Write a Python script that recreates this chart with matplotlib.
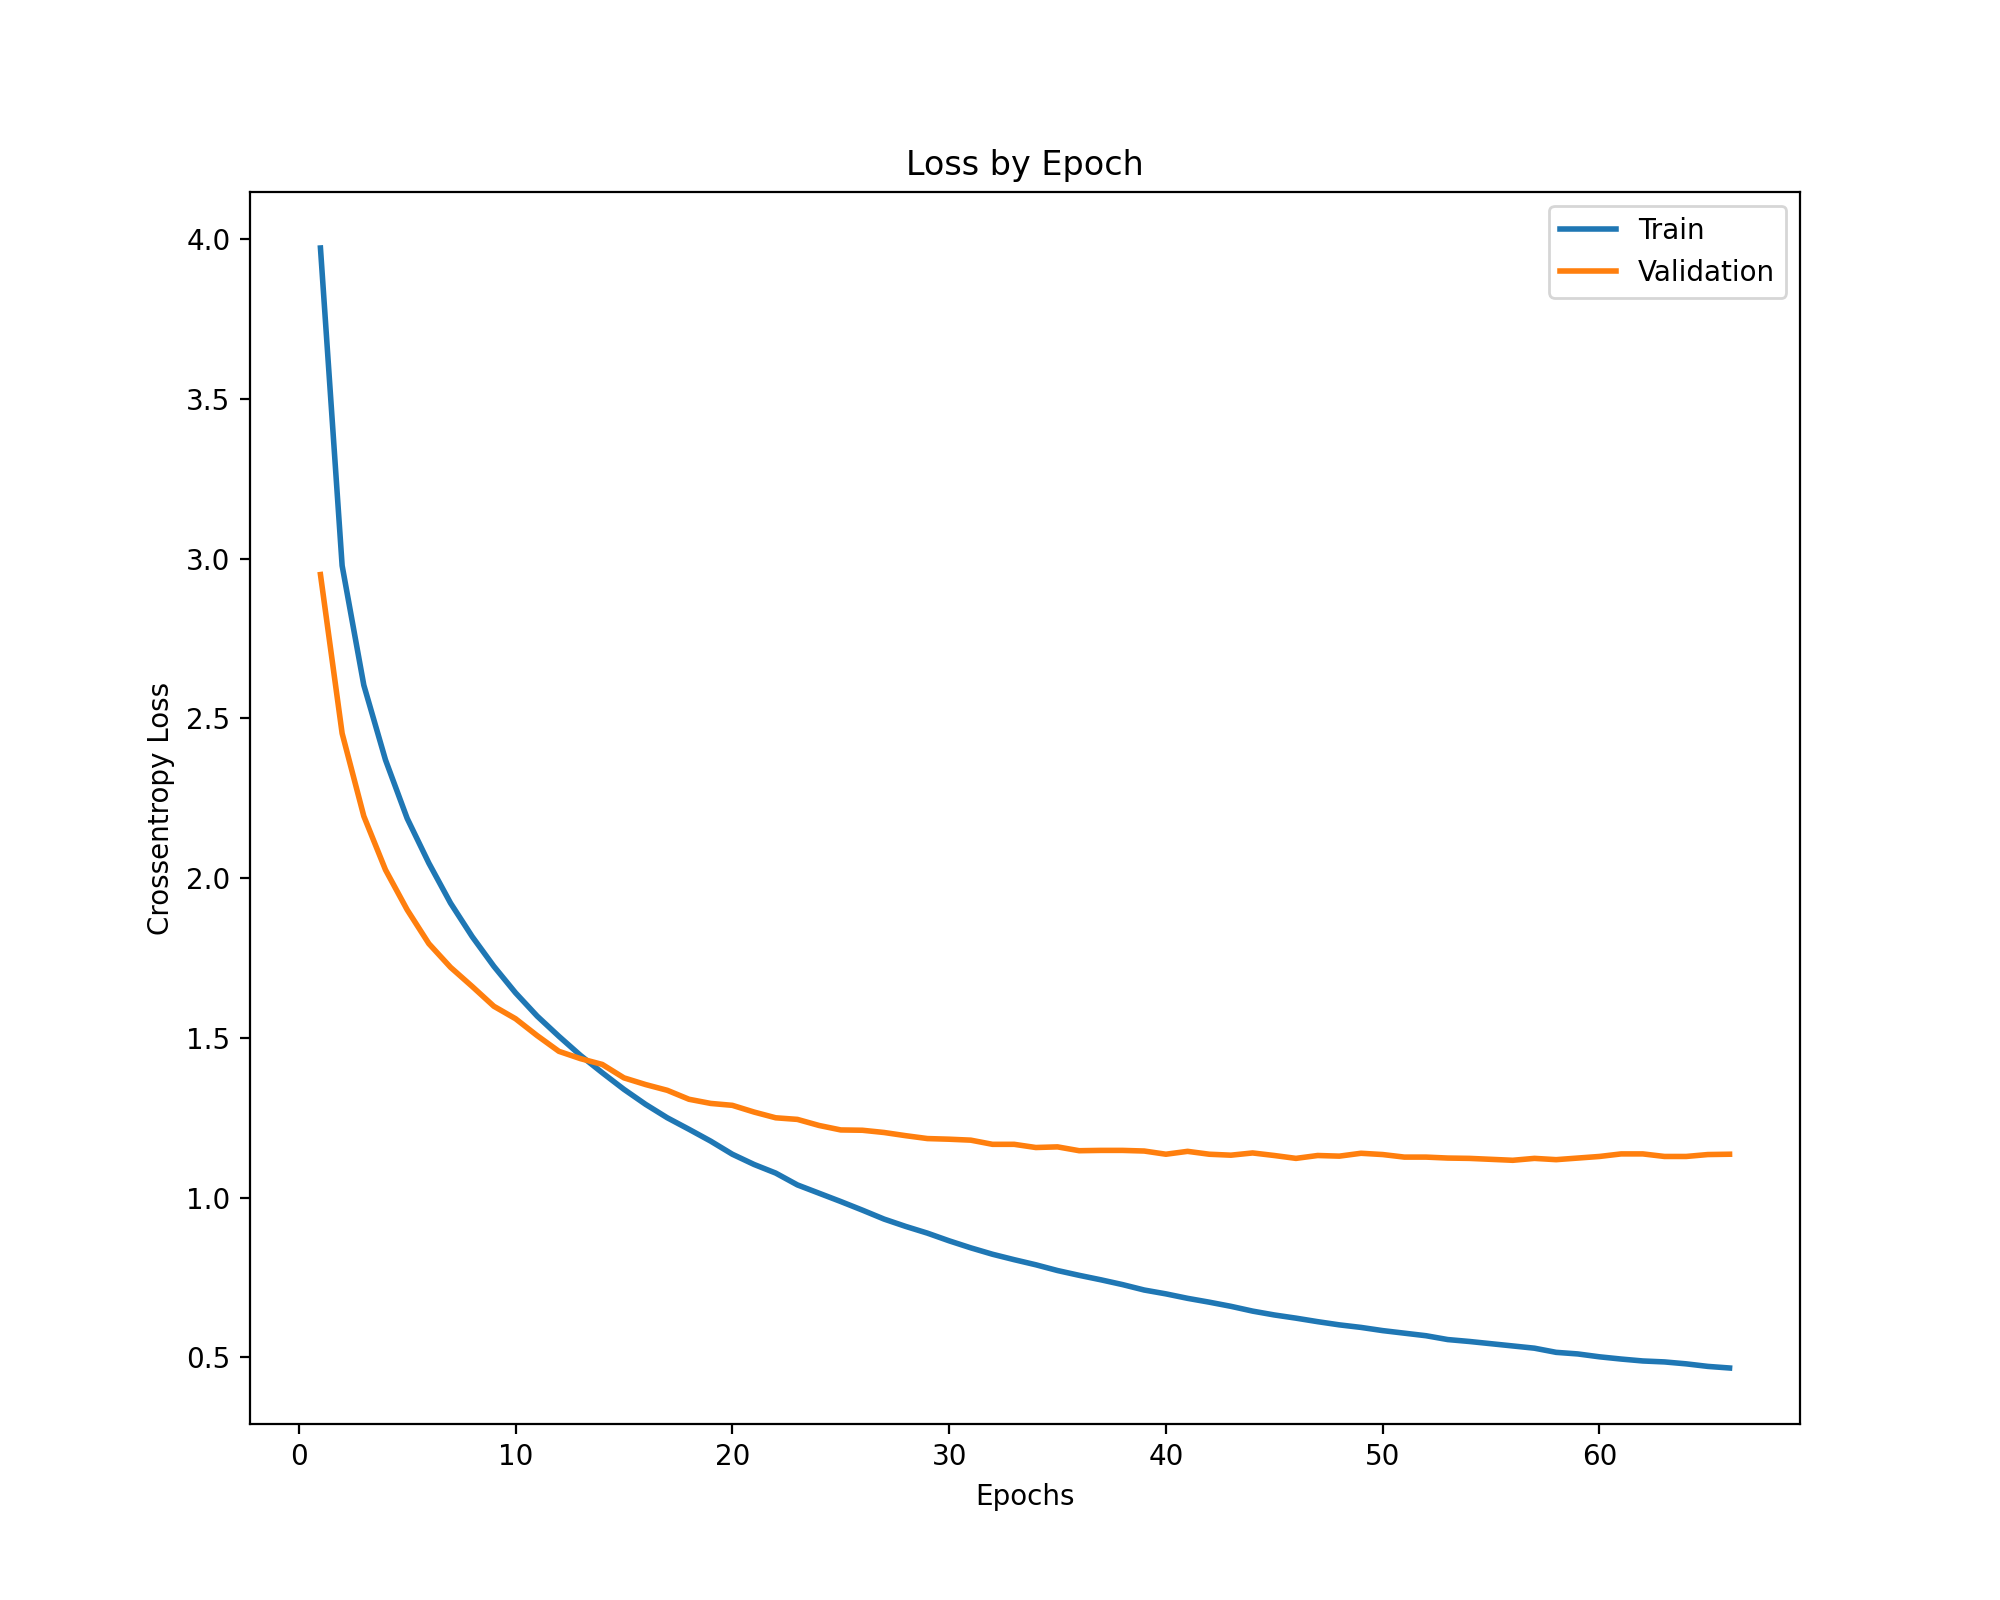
import matplotlib
matplotlib.use("Agg")
import matplotlib.pyplot as plt

# loss values, one per epoch (1..66)
train_loss = [
    3.972, 2.978, 2.604, 2.370, 2.187, 2.047, 1.922, 1.817, 1.724, 1.641,
    1.568, 1.505, 1.445, 1.391, 1.339, 1.292, 1.250, 1.214, 1.177, 1.136,
    1.104, 1.077, 1.040, 1.014, 0.988, 0.961, 0.933, 0.910, 0.889, 0.865,
    0.843, 0.823, 0.806, 0.790, 0.772, 0.757, 0.743, 0.728, 0.711, 0.699,
    0.685, 0.673, 0.660, 0.645, 0.633, 0.623, 0.612, 0.602, 0.594, 0.584,
    0.576, 0.568, 0.556, 0.550, 0.543, 0.536, 0.529, 0.516, 0.511, 0.502,
    0.495, 0.489, 0.486, 0.480, 0.472, 0.467,
]
val_loss = [
    2.950, 2.453, 2.194, 2.026, 1.901, 1.795, 1.721, 1.661, 1.599, 1.560,
    1.507, 1.458, 1.435, 1.417, 1.375, 1.354, 1.336, 1.308, 1.295, 1.289,
    1.268, 1.250, 1.245, 1.226, 1.212, 1.211, 1.204, 1.194, 1.185, 1.183,
    1.180, 1.167, 1.167, 1.157, 1.159, 1.147, 1.148, 1.148, 1.146, 1.136,
    1.145, 1.136, 1.133, 1.140, 1.132, 1.123, 1.132, 1.130, 1.139, 1.135,
    1.127, 1.127, 1.124, 1.123, 1.120, 1.117, 1.123, 1.119, 1.124, 1.129,
    1.137, 1.137, 1.129, 1.129, 1.135, 1.136,
]
epochs = list(range(1, len(train_loss) + 1))

fig = plt.figure(figsize=(10, 8), dpi=200)
plt.plot(epochs, train_loss, label="Train", linewidth=2)
plt.plot(epochs, val_loss, label="Validation", linewidth=2)
plt.title("Loss by Epoch")
plt.xlabel("Epochs")
plt.ylabel("Crossentropy Loss")
plt.legend()
plt.savefig("out.png", dpi=200)
